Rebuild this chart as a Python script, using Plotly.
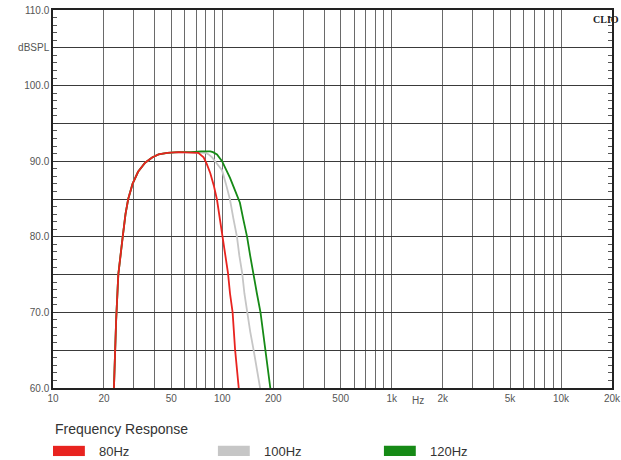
import plotly.graph_objects as go

# ---- data ----
series_names = ["80Hz", "100Hz", "120Hz"]
series_colors = ["#e8231f", "#c6c6c6", "#168a16"]

low_freq = [22.9, 23.2, 23.6, 24.3, 25.0, 25.8, 26.8, 27.8, 29.5, 31.8, 35.0, 38.5, 42.0, 47.3, 55.0, 65.0]
low_db = [60.0, 64.0, 69.0, 75.0, 77.8, 80.0, 83.0, 85.0, 87.0, 88.6, 89.8, 90.5, 90.9, 91.1, 91.2, 91.2]

red_freq = low_freq + [72.1, 77.5, 81.0, 84.9, 89.0, 93.0, 96.5, 99.6, 104.0, 108.0, 111.0, 115.0, 119.0, 122.0, 125.0]
red_db = low_db + [91.1, 90.5, 89.6, 88.4, 86.8, 84.9, 82.5, 80.0, 77.5, 75.2, 72.5, 70.0, 65.0, 62.5, 60.0]

gray_freq = low_freq + [72.0, 80.0, 83.0, 87.0, 90.6, 95.0, 99.6, 105.0, 111.0, 116.0, 122.0, 126.0, 131.0, 135.0, 140.0, 146.0, 153.0, 160.0, 168.0]
gray_db = low_db + [91.2, 91.1, 90.9, 90.5, 90.0, 89.4, 88.8, 87.0, 84.9, 82.5, 80.0, 77.5, 75.2, 72.5, 70.0, 67.5, 65.0, 62.5, 59.7]

green_freq = low_freq + [75.0, 85.0, 88.0, 93.0, 99.6, 105.0, 111.0, 118.0, 127.0, 133.0, 140.0, 146.0, 153.0, 160.0, 168.0, 174.0, 180.0, 186.0, 192.0]
green_db = low_db + [91.3, 91.3, 91.2, 90.9, 90.0, 89.0, 87.8, 86.3, 84.5, 82.3, 80.0, 77.5, 75.2, 72.5, 70.0, 67.5, 65.0, 62.5, 60.0]

x_grid = [10, 20, 30, 40, 50, 60, 70, 80, 90, 100, 200, 300, 400, 500, 600, 700, 800, 900,
          1000, 2000, 3000, 4000, 5000, 6000, 7000, 8000, 9000, 10000, 20000]
x_labels = {10: "10", 20: "20", 50: "50", 100: "100", 200: "200", 500: "500",
            1000: "1k", 2000: "2k", 5000: "5k", 10000: "10k", 20000: "20k"}
y_vals = [60, 65, 70, 75, 80, 85, 90, 95, 100, 105, 110]
y_labels = ["60.0", "", "70.0", "", "80.0", "", "90.0", "", "100.0", "dBSPL", "110.0"]

fig = go.Figure()
order = [(1, gray_freq, gray_db), (2, green_freq, green_db), (0, red_freq, red_db)]
for idx, fx, fy in order:
    fig.add_trace(go.Scatter(x=fx, y=fy, mode="lines", name=series_names[idx],
                             line=dict(color=series_colors[idx], width=1.8),
                             showlegend=False))

fig.update_layout(
    width=621, height=460,
    margin=dict(l=53, r=9, t=10, b=72),
    paper_bgcolor="white", plot_bgcolor="white",
    font=dict(family="Liberation Sans, Arial, sans-serif", color="#555555", size=10),
)
fig.update_xaxes(
    type="log", range=[1, 4.30103], automargin=False, ticklabeloverflow="allow",
    tickmode="array", tickvals=x_grid,
    ticktext=[x_labels.get(v, "") for v in x_grid],
    showgrid=True, gridcolor="#6a6a6a", gridwidth=1,
    showline=True, linecolor="#222222", linewidth=1.5, mirror=True,
    ticks="", zeroline=False,
    tickfont=dict(size=10, color="#555555"),
)
fig.update_yaxes(
    range=[60, 110], automargin=False, ticklabeloverflow="allow",
    tickmode="array", tickvals=y_vals, ticktext=y_labels,
    showgrid=True, gridcolor="#3a3a3a", gridwidth=1,
    showline=True, linecolor="#222222", linewidth=1.5, mirror="ticks",
    ticks="inside", ticklen=5, tickcolor="#333333",
    minor=dict(dtick=1, ticks="inside", ticklen=4, tickcolor="#555555", showgrid=False),
    zeroline=False,
    tickfont=dict(size=10, color="#555555"),
)

# Hz label and CLIO mark
fig.add_annotation(x=3.154, y=-0.012, xref="x", yref="paper", text="Hz", showarrow=False,
                   xanchor="center", yanchor="top", font=dict(size=10, color="#555555"))
fig.add_annotation(x=1.0, y=1.0, xref="paper", yref="paper", text="<b>CLIO</b>", showarrow=False,
                   xanchor="right", yanchor="top", xshift=9, yshift=-2,
                   font=dict(size=10, color="#222222", family="Liberation Serif, serif"))

# Legend drawn manually
fig.add_annotation(x=0, y=-0.108, xref="paper", yref="paper", text="Frequency Response",
                   showarrow=False, xanchor="left", yanchor="middle",
                   font=dict(size=14, color="#333333"))
leg_x = [0.0, 0.295, 0.592]
for i in range(3):
    x0 = leg_x[i]
    fig.add_shape(type="rect", xref="paper", yref="paper",
                  x0=x0, x1=x0 + 0.057, y0=-0.18, y1=-0.153,
                  fillcolor=series_colors[i], line=dict(width=0))
    fig.add_annotation(x=x0 + 0.078, y=-0.167, xref="paper", yref="paper", text=series_names[i],
                       showarrow=False, xanchor="left", yanchor="middle",
                       font=dict(size=13, color="#333333"))

fig.write_html("out.html", config={"displayModeBar": False},
               post_script="document.body.style.margin='0';")
